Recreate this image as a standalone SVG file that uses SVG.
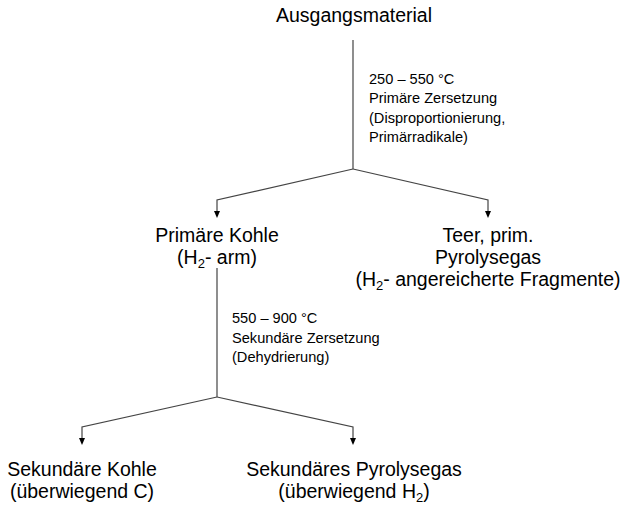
<svg xmlns="http://www.w3.org/2000/svg" width="624" height="508" viewBox="0 0 624 508">
<defs>
<style>
.big{font-family:"Liberation Sans",Arial,sans-serif;font-size:19.5px;fill:#000;text-anchor:middle}
.small{font-family:"Liberation Sans",Arial,sans-serif;font-size:14.6px;fill:#000}
.ln{fill:none;stroke:#444;stroke-width:1.2}
.ah{fill:#000}
.sub{font-size:13px}
</style>
</defs>
<rect width="624" height="508" fill="#fff"/>
<g id="connectors">
<path class="ln" d="M353,40 V169"/>
<path class="ln" d="M353,169 L217,200 V212"/>
<path class="ln" d="M353,169 L488,200 V212"/>
<path class="ln" d="M217,268 V397"/>
<path class="ln" d="M217,397 L82,427 V439"/>
<path class="ln" d="M217,397 L353,427 V439"/>
<path class="ah" d="M214,211 L220,211 L217,218 Z"/>
<path class="ah" d="M485,211 L491,211 L488,218 Z"/>
<path class="ah" d="M79,438 L85,438 L82,445 Z"/>
<path class="ah" d="M350,438 L356,438 L353,445 Z"/>
</g>
<g id="label1">
<text class="small" x="369" y="84">250 – 550 °C</text>
<text class="small" x="369" y="103">Primäre Zersetzung</text>
<text class="small" x="369" y="123">(Disproportionierung,</text>
<text class="small" x="369" y="142">Primärradikale)</text>
</g>
<g id="label2">
<text class="small" x="232" y="323">550 – 900 °C</text>
<text class="small" x="232" y="343">Sekundäre Zersetzung</text>
<text class="small" x="232" y="362">(Dehydrierung)</text>
</g>
<g id="n-ausgang">
<text class="big" x="354" y="22">Ausgangsmaterial</text>
</g>
<g id="n-primkohle">
<text class="big" x="217" y="242">Primäre Kohle</text>
<text class="big" x="217" y="264">(H<tspan class="sub" dy="4">2</tspan><tspan dy="-4">- arm)</tspan></text>
</g>
<g id="n-teer">
<text class="big" x="488" y="242">Teer, prim.</text>
<text class="big" x="488" y="264">Pyrolysegas</text>
<text class="big" x="488" y="286">(H<tspan class="sub" dy="4">2</tspan><tspan dy="-4">- angereicherte Fragmente)</tspan></text>
</g>
<g id="n-sekkohle">
<text class="big" x="82" y="476">Sekundäre Kohle</text>
<text class="big" x="82" y="498">(überwiegend C)</text>
</g>
<g id="n-sekgas">
<text class="big" x="354" y="476">Sekundäres Pyrolysegas</text>
<text class="big" x="354" y="498">(überwiegend H<tspan class="sub" dy="4">2</tspan><tspan dy="-4">)</tspan></text>
</g>
</svg>
